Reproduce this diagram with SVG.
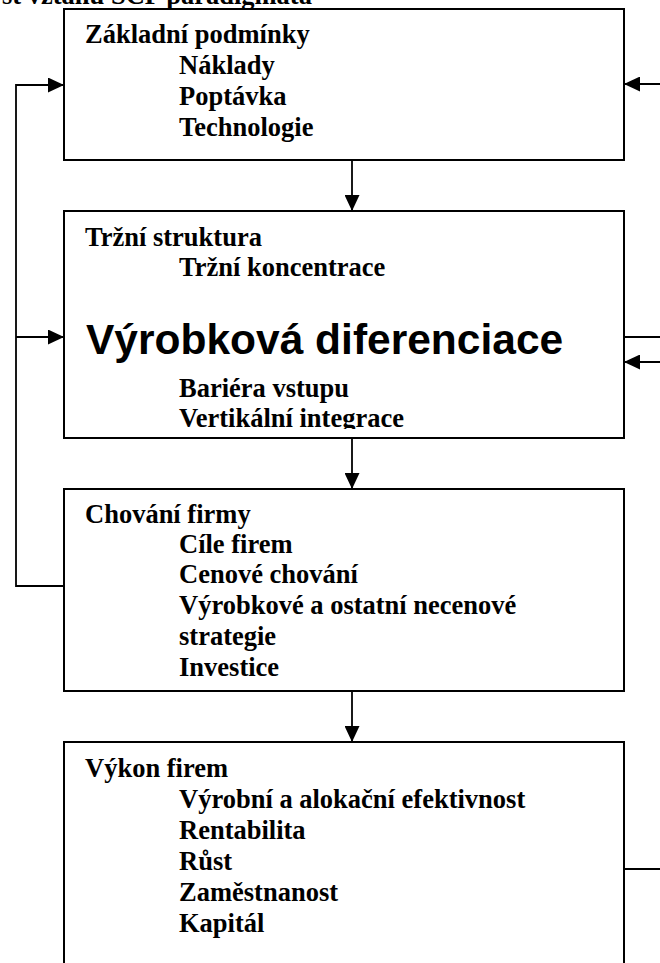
<svg xmlns="http://www.w3.org/2000/svg" width="660" height="963" viewBox="0 0 660 963">
<style>
.box{fill:#fff;stroke:#000;stroke-width:2}
.t{font-family:"Liberation Serif","Times New Roman",serif;font-weight:bold;font-size:26.5px;fill:#000}
.big{font-family:"Liberation Sans",Arial,sans-serif;font-weight:bold;font-size:42.5px;fill:#000}
.c{fill:none;stroke:#000;stroke-width:1.8}
</style>
<defs>
<marker id="ah" markerUnits="userSpaceOnUse" markerWidth="16" markerHeight="15" refX="16" refY="7.5" orient="auto" viewBox="0 0 16 15">
<path d="M0,0 L16,7.5 L0,15 z" fill="#000"/>
</marker>
<clipPath id="clip2"><rect x="64" y="211" width="560" height="218"/></clipPath>
</defs>
<rect width="660" height="963" fill="#fff"/>
<text class="t" x="2" y="4">st vztahů SCP paradigmata</text>
<g id="connectors">
<line class="c" x1="352" y1="160" x2="352" y2="211" marker-end="url(#ah)"/>
<line class="c" x1="352" y1="438" x2="352" y2="489" marker-end="url(#ah)"/>
<line class="c" x1="352" y1="691" x2="352" y2="742" marker-end="url(#ah)"/>
<polyline class="c" points="64,586 16,586 16,85 64,85" marker-end="url(#ah)"/>
<line class="c" x1="16" y1="337" x2="64" y2="337" marker-end="url(#ah)"/>
<line class="c" x1="660" y1="84" x2="624" y2="84" marker-end="url(#ah)"/>
<line class="c" x1="660" y1="362" x2="624" y2="362" marker-end="url(#ah)"/>
<line class="c" x1="624" y1="337" x2="660" y2="337"/>
<line class="c" x1="624" y1="869" x2="660" y2="869"/>
</g>
<g id="zakladni-podminky">
<rect class="box" x="64" y="9" width="560" height="151"/>
<text class="t" x="85" y="43">Základní podmínky</text>
<text class="t" x="179" y="74">Náklady</text>
<text class="t" x="179" y="105">Poptávka</text>
<text class="t" x="179" y="136">Technologie</text>
</g>
<g id="trzni-struktura">
<rect class="box" x="64" y="211" width="560" height="227"/>
<g clip-path="url(#clip2)">
<text class="t" x="85" y="246">Tržní struktura</text>
<text class="t" x="179" y="276">Tržní koncentrace</text>
<text class="big" x="86" y="354">Výrobková diferenciace</text>
<text class="t" x="179" y="397">Bariéra vstupu</text>
<text class="t" x="179" y="427">Vertikální integrace</text>
</g>
</g>
<g id="chovani-firmy">
<rect class="box" x="64" y="489" width="560" height="202"/>
<text class="t" x="85" y="523">Chování firmy</text>
<text class="t" x="179" y="553">Cíle firem</text>
<text class="t" x="179" y="583">Cenové chování</text>
<text class="t" x="179" y="614">Výrobkové a ostatní necenové</text>
<text class="t" x="179" y="645">strategie</text>
<text class="t" x="179" y="676">Investice</text>
</g>
<g id="vykon-firem">
<rect class="box" x="64" y="742" width="560" height="240"/>
<text class="t" x="85" y="777">Výkon firem</text>
<text class="t" x="179" y="808">Výrobní a alokační efektivnost</text>
<text class="t" x="179" y="839">Rentabilita</text>
<text class="t" x="179" y="870">Růst</text>
<text class="t" x="179" y="901">Zaměstnanost</text>
<text class="t" x="179" y="932">Kapitál</text>
</g>
</svg>
